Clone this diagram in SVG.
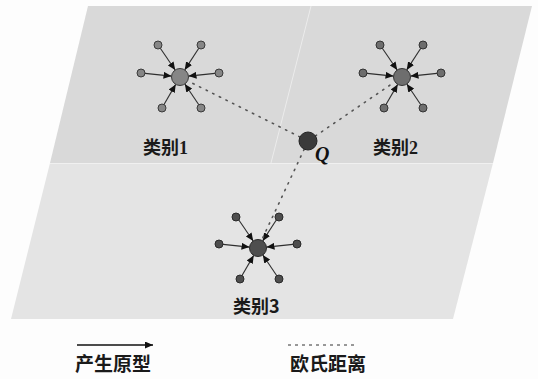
<svg xmlns="http://www.w3.org/2000/svg" width="538" height="379" viewBox="0 0 538 379">
<style>
.arr{stroke:#2e2e2e;stroke-width:1.1;fill:none;marker-end:url(#ah)}
.dot{stroke:#555;stroke-width:1.6;fill:none;stroke-dasharray:1.4 6;stroke-linecap:round}
.sat1{fill:#868686;stroke:#3a3a3a;stroke-width:1}
.sat2{fill:#6e6e6e;stroke:#333;stroke-width:1}
.sat3{fill:#4e4e4e;stroke:#2a2a2a;stroke-width:1}
.lbl{font-family:"Liberation Serif","Noto Sans CJK SC",serif;font-weight:bold;font-size:18px;fill:#1a1a1a}
.lbs{font-family:"Noto Sans CJK SC",sans-serif;font-weight:bold;font-size:18px;fill:#1a1a1a}
</style>
<defs>
<marker id="ah" markerUnits="userSpaceOnUse" markerWidth="8" markerHeight="7" refX="8" refY="3.5" orient="auto">
<path d="M0,0 L8,3.5 L0,7 z" fill="#111"/>
</marker>
</defs>
<rect width="538" height="379" fill="#fdfdfd"/>
<g id="panels">
<polygon points="50,163 493,163 453,319 11,319" fill="#e4e4e4"/>
<polygon points="88,6 532,6 493,163 50,163" fill="#d9d9d9"/>
<line x1="311" y1="6" x2="271" y2="163" stroke="#ececec" stroke-width="1"/>
<line x1="50" y1="163.5" x2="493" y2="163.5" stroke="#f0f0f0" stroke-width="1"/>
</g>
<g id="connectors">
<line class="arr" x1="160.3" y1="48.3" x2="175.2" y2="70"/>
<line class="arr" x1="198.8" y1="48.3" x2="184.7" y2="69.9"/>
<line class="arr" x1="145" y1="73.4" x2="171.5" y2="76.1"/>
<line class="arr" x1="215" y1="73.4" x2="188.5" y2="76.1"/>
<line class="arr" x1="164" y1="104.5" x2="175.7" y2="84.4"/>
<line class="arr" x1="198.8" y1="104.7" x2="184.8" y2="84"/>
<line class="arr" x1="382.3" y1="48.3" x2="397.2" y2="70"/>
<line class="arr" x1="420.8" y1="48.3" x2="406.7" y2="69.9"/>
<line class="arr" x1="367" y1="73.4" x2="393.5" y2="76.1"/>
<line class="arr" x1="437" y1="73.4" x2="410.5" y2="76.1"/>
<line class="arr" x1="386" y1="104.5" x2="397.7" y2="84.4"/>
<line class="arr" x1="420.8" y1="104.7" x2="406.8" y2="84"/>
<line class="arr" x1="238.3" y1="219.3" x2="253.2" y2="241"/>
<line class="arr" x1="276.8" y1="219.3" x2="262.7" y2="240.9"/>
<line class="arr" x1="223" y1="244.4" x2="249.5" y2="247.1"/>
<line class="arr" x1="293" y1="244.4" x2="266.5" y2="247.1"/>
<line class="arr" x1="242" y1="275.5" x2="253.7" y2="255.4"/>
<line class="arr" x1="276.8" y1="275.7" x2="262.8" y2="255"/>
<line class="dot" x1="300" y1="137" x2="188" y2="81"/>
<line class="dot" x1="315.4" y1="136" x2="394.6" y2="82"/>
<line class="dot" x1="304.2" y1="149.2" x2="261.4" y2="240.7"/>
</g>
<g id="class1">
<circle class="sat1" cx="158" cy="45" r="4"/>
<circle class="sat1" cx="201" cy="45" r="4"/>
<circle class="sat1" cx="141" cy="73" r="4"/>
<circle class="sat1" cx="219" cy="73" r="4"/>
<circle class="sat1" cx="162" cy="108" r="4"/>
<circle class="sat1" cx="201" cy="108" r="4"/>
<circle class="sat1" cx="180" cy="77" r="8.5"/>
<text class="lbl" x="143" y="154">类别1</text>
</g>
<g id="class2">
<circle class="sat2" cx="380" cy="45" r="4"/>
<circle class="sat2" cx="423" cy="45" r="4"/>
<circle class="sat2" cx="363" cy="73" r="4"/>
<circle class="sat2" cx="441" cy="73" r="4"/>
<circle class="sat2" cx="384" cy="108" r="4"/>
<circle class="sat2" cx="423" cy="108" r="4"/>
<circle class="sat2" cx="402" cy="77" r="8.5"/>
<text class="lbl" x="373" y="154">类别2</text>
</g>
<g id="class3">
<circle class="sat3" cx="236" cy="217" r="4"/>
<circle class="sat3" cx="279" cy="217" r="4"/>
<circle class="sat3" cx="219" cy="244" r="4"/>
<circle class="sat3" cx="297" cy="244" r="4"/>
<circle class="sat3" cx="240" cy="279" r="4"/>
<circle class="sat3" cx="279" cy="279" r="4"/>
<circle class="sat3" cx="258" cy="248" r="8.5"/>
<text class="lbs" x="233" y="313">类别3</text>
</g>
<g id="query">
<circle cx="308" cy="141" r="9" fill="#3a3a3a" stroke="#222" stroke-width="1"/>
<text x="315" y="161" font-family="Liberation Serif,serif" font-style="italic" font-weight="bold" font-size="20" fill="#111">Q</text>
</g>
<g id="legend">
<line x1="77" y1="345" x2="153" y2="345" stroke="#111" stroke-width="1.3" marker-end="url(#ah)"/>
<line x1="288" y1="345" x2="356" y2="345" stroke="#333" stroke-width="1" stroke-dasharray="3 4"/>
<text class="lbs" x="75" y="371" style="font-size:19px">产生原型</text>
<text class="lbs" x="290" y="371" style="font-size:19px">欧氏距离</text>
</g>
</svg>
